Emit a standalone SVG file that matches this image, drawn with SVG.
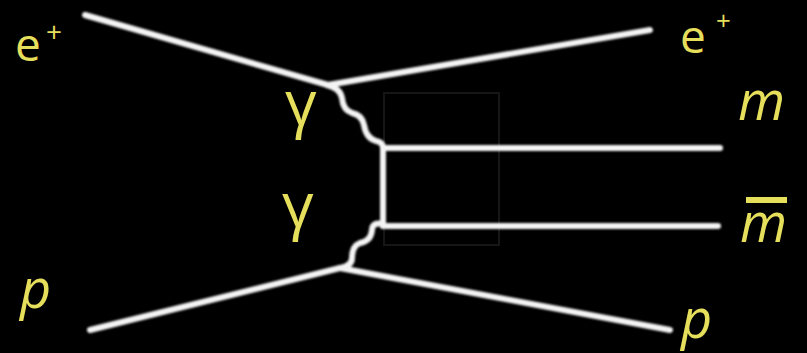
<svg xmlns="http://www.w3.org/2000/svg" width="807" height="353" viewBox="0 0 807 353">
<defs>
<filter id="glow" x="-10%" y="-10%" width="120%" height="120%">
<feGaussianBlur stdDeviation="0.8"/>
</filter>
</defs>
<style>
.ln{fill:none;stroke:#f4f4f4;stroke-width:6;stroke-linecap:round;stroke-linejoin:round}
.lbl{fill:#e6df5c;font-family:"Open Sans","Liberation Sans",sans-serif}
.it{font-style:italic}
</style>
<rect width="807" height="353" fill="#000"/>
<rect x="384" y="93" width="115" height="152" fill="none" stroke="#161616" stroke-width="2"/>
<g id="connectors" filter="url(#glow)">
<path class="ln" d="M85,15 L328,85"/>
<path class="ln" d="M328,85 L650,30"/>
<path class="ln" d="M90,330 L340,268"/>
<path class="ln" d="M340,268 L670,330"/>
<path class="ln" d="M327,85 Q340,88 342,98 Q343,110 352,113 Q362,115 364,125 Q366,138 376,141 Q383,142 383,148"/>
<path class="ln" d="M383,148 L383,226"/>
<path class="ln" d="M383,148 L720,148"/>
<path class="ln" d="M383,226 L718,226"/>
<path class="ln" d="M383,224 Q372,222 372,230 Q371,241 360,243 Q352,246 352,258 Q352,266 340,268"/>
</g>
<g id="e-plus-in"><text class="lbl" x="15" y="61" font-size="46">e</text><text class="lbl" x="46" y="42" font-size="28">+</text></g>
<g id="e-plus-out"><text class="lbl" x="680" y="53" font-size="46">e</text><text class="lbl" x="716" y="30" font-size="26">+</text></g>
<g id="gamma-1"><text class="lbl" x="285" y="125" font-size="62">γ</text></g>
<g id="gamma-2"><text class="lbl" x="282" y="227" font-size="62">γ</text></g>
<g id="m"><text class="lbl it" x="738" y="120" font-size="54">m</text></g>
<g id="m-bar"><text class="lbl it" x="740" y="242" font-size="54">m</text><rect x="746" y="197" width="41" height="6" fill="#e6df5c"/></g>
<g id="p-in"><text class="lbl it" x="20" y="308" font-size="54">p</text></g>
<g id="p-out"><text class="lbl it" x="681" y="338" font-size="54">p</text></g>
</svg>
